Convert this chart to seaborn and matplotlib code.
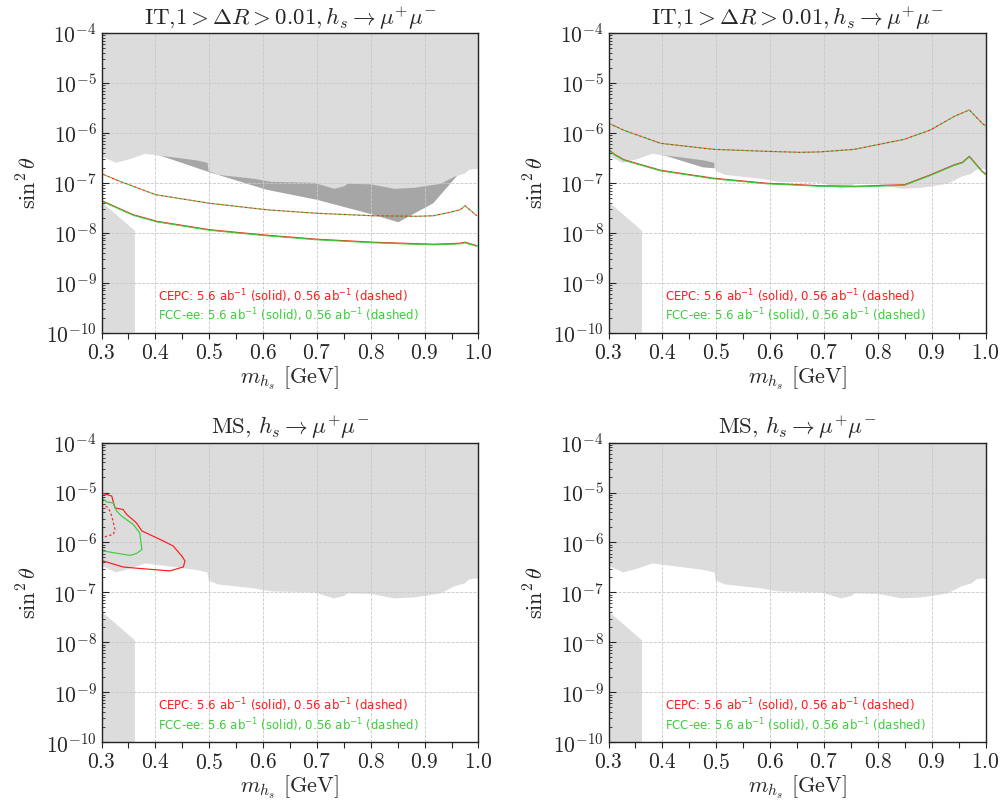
import numpy as np
import pandas as pd
import matplotlib
matplotlib.use("Agg")
import matplotlib.pyplot as plt
from matplotlib.ticker import MultipleLocator, LogLocator, NullFormatter
import seaborn as sns

# ---- data (log10 of sin^2 theta) ----
# existing exclusion boundary (light grey, filled up to 1e-4)
bound_m = [0.300, 0.326, 0.354, 0.380, 0.425, 0.475, 0.496, 0.498, 0.515, 0.583, 0.614, 0.694,
           0.731, 0.750, 0.756, 0.799, 0.843, 0.880, 0.929, 0.954, 0.973, 0.982, 0.994, 1.000]
bound_log = [-6.46, -6.59, -6.51, -6.41, -6.47, -6.54, -6.59, -6.75, -6.83, -6.91, -6.97, -6.99,
             -7.11, -7.06, -7.01, -7.02, -7.11, -7.09, -7.01, -6.87, -6.81, -6.73, -6.71, -6.72]

# low mass wedge (light grey)
wedge_m = [0.300, 0.362, 0.362, 0.300]
wedge_log = [-7.38, -7.96, -10.0, -10.0]

# dark grey regions (lower edge, upper edge hidden under the light grey)
dark_it1_m = [0.405, 0.501, 0.607, 0.700, 0.805, 0.851, 0.916, 0.962, 0.962, 0.405]
dark_it1_log = [-6.44, -6.79, -7.14, -7.34, -7.64, -7.79, -7.41, -6.84, -6.5, -6.3]
dark_it2_m = [0.400, 0.475, 0.497, 0.497, 0.400]
dark_it2_log = [-6.44, -6.69, -6.71, -6.3, -6.3]

# IT, panel 1 (CEPC and FCC-ee coincide)
it1_m = [0.303, 0.334, 0.359, 0.396, 0.402, 0.501, 0.607, 0.700, 0.805, 0.885, 0.916, 0.947, 0.966, 0.975, 0.997]
it1_solid = [-7.37, -7.52, -7.64, -7.75, -7.77, -7.94, -8.05, -8.13, -8.19, -8.22, -8.23, -8.22, -8.21, -8.19, -8.26]
it1_dash = [-6.83, -6.97, -7.07, -7.22, -7.24, -7.41, -7.54, -7.61, -7.66, -7.67, -7.66, -7.59, -7.54, -7.46, -7.66]

# IT, panel 2
it2_m = [0.300, 0.311, 0.329, 0.397, 0.496, 0.595, 0.657, 0.694, 0.756, 0.849, 0.898, 0.942, 0.957, 0.970, 0.994, 1.000]
it2_solid = [-6.33, -6.43, -6.54, -6.75, -6.91, -7.01, -7.04, -7.06, -7.07, -7.04, -6.84, -6.64, -6.59, -6.47, -6.77, -6.82]
it2_dash = [-5.81, -5.86, -5.95, -6.21, -6.33, -6.37, -6.39, -6.38, -6.33, -6.13, -5.94, -5.67, -5.60, -5.54, -5.81, -5.86]

# MS, panel 1 contours
ms_cepc_m = [0.300, 0.303, 0.319, 0.325, 0.340, 0.347, 0.365, 0.375, 0.409, 0.433, 0.449, 0.455,
             0.452, 0.427, 0.359, 0.340, 0.303, 0.300]
ms_cepc_log = [-5.01, -5.02, -5.07, -5.31, -5.34, -5.44, -5.61, -5.77, -5.94, -6.07, -6.27, -6.37,
               -6.49, -6.57, -6.51, -6.49, -6.37, -6.36]
ms_cepc_dash_m = [0.300, 0.303, 0.313, 0.319, 0.325, 0.322, 0.310, 0.303, 0.300]
ms_cepc_dash_log = [-5.23, -5.24, -5.31, -5.47, -5.74, -5.84, -5.87, -5.91, -5.92]
ms_fcc_m = [0.300, 0.303, 0.310, 0.322, 0.328, 0.337, 0.359, 0.371, 0.375, 0.365, 0.353, 0.303, 0.300]
ms_fcc_log = [-5.12, -5.13, -5.19, -5.21, -5.37, -5.47, -5.64, -5.81, -6.14, -6.22, -6.26, -6.17, -6.16]

titles = [r"IT,$1 > \Delta R > 0.01, h_s \to \mu^{+}\mu^{-}$",
          r"IT,$1 > \Delta R > 0.01, h_s \to \mu^{+}\mu^{-}$",
          r"MS, $h_s \to \mu^{+}\mu^{-}$",
          r"MS, $h_s \to \mu^{+}\mu^{-}$"]

red = "#ff1a1a"
green = "#3ccc3c"
light = "#dcdcdc"
dark = "#a6a6a6"

sns.set_style("ticks")
plt.rcParams["font.family"] = ["cmr10", "DejaVu Serif"]
plt.rcParams["mathtext.fontset"] = "cm"
plt.rcParams["axes.formatter.use_mathtext"] = True
plt.rcParams["axes.axisbelow"] = "line"
plt.rcParams["axes.unicode_minus"] = True

fig, axes = plt.subplots(2, 2, figsize=(10, 8.05), dpi=100)
plt.subplots_adjust(left=0.1015, right=0.9855, top=0.959, bottom=0.078, wspace=0.345, hspace=0.367)


def curve(ax, m, logv, color, dashed=False, offset=0):
    df = pd.DataFrame({"m": m, "s": 10 ** np.array(logv)})
    ls = (offset, (2.0, 2.0)) if dashed else "-"
    sns.lineplot(data=df, x="m", y="s", ax=ax, color=color, lw=0.85,
                 sort=False, estimator=None, linestyle=ls)


for i, ax in enumerate(axes.flat):
    ax.set_yscale("log")
    ax.fill_between(bound_m, 10 ** np.array(bound_log), 1e-4, color=light, lw=0, zorder=1)
    ax.fill(wedge_m, 10 ** np.array(wedge_log), color=light, lw=0, zorder=1)

    if i == 0:
        ax.fill(dark_it1_m, 10 ** np.array(dark_it1_log), color=dark, lw=0, zorder=0.9)
        curve(ax, it1_m, it1_dash, red, dashed=True, offset=0)
        curve(ax, it1_m, it1_dash, green, dashed=True, offset=2.0)
        curve(ax, it1_m, it1_solid, red)
        curve(ax, it1_m, np.array(it1_solid) - 0.01, green)
    elif i == 1:
        ax.fill(dark_it2_m, 10 ** np.array(dark_it2_log), color=dark, lw=0, zorder=0.9)
        curve(ax, it2_m, it2_dash, red, dashed=True, offset=0)
        curve(ax, it2_m, it2_dash, green, dashed=True, offset=2.0)
        curve(ax, it2_m, it2_solid, red)
        curve(ax, it2_m, np.array(it2_solid) - 0.01, green)
    elif i == 2:
        curve(ax, ms_cepc_m, ms_cepc_log, red)
        curve(ax, ms_cepc_dash_m, ms_cepc_dash_log, red, dashed=True)
        curve(ax, ms_fcc_m, ms_fcc_log, green)

    ax.set_xlim(0.3, 1.0)
    ax.set_ylim(1e-10, 1e-4)
    ax.xaxis.set_major_locator(MultipleLocator(0.1))
    ax.xaxis.set_minor_locator(MultipleLocator(0.05))
    ax.yaxis.set_major_locator(LogLocator(base=10, numticks=10))
    ax.yaxis.set_minor_locator(LogLocator(base=10, subs=np.arange(2, 10), numticks=20))
    ax.yaxis.set_minor_formatter(NullFormatter())
    ax.tick_params(axis="x", which="both", direction="out", length=4, width=0.8, labelsize=15.5)
    ax.tick_params(axis="y", which="major", direction="in", length=5, width=0.8, labelsize=15.5)
    ax.tick_params(axis="y", which="minor", direction="in", length=2.5, width=0.6)
    ax.grid(True, which="major", linestyle="--", color="#c8c8c8", lw=0.6)
    for sp in ax.spines.values():
        sp.set_visible(True)
        sp.set_linewidth(1.0)
        sp.set_color("#222222")

    ax.set_xlabel(r"$m_{h_s}$ [GeV]", fontsize=16, labelpad=1)
    ax.set_ylabel(r"$\sin^2\theta$", fontsize=16, labelpad=4)
    ax.set_title(titles[i], fontsize=16.5, pad=6)

    ax.text(0.149, 0.123, r"CEPC: 5.6 ab$^{-1}$ (solid), 0.56 ab$^{-1}$ (dashed)",
            transform=ax.transAxes, color=red, fontsize=8.5, va="center",
            family="DejaVu Sans", math_fontfamily="dejavusans")
    ax.text(0.149, 0.057, r"FCC-ee: 5.6 ab$^{-1}$ (solid), 0.56 ab$^{-1}$ (dashed)",
            transform=ax.transAxes, color=green, fontsize=8.5, va="center",
            family="DejaVu Sans", math_fontfamily="dejavusans")

fig.savefig("out.png", dpi=100)
